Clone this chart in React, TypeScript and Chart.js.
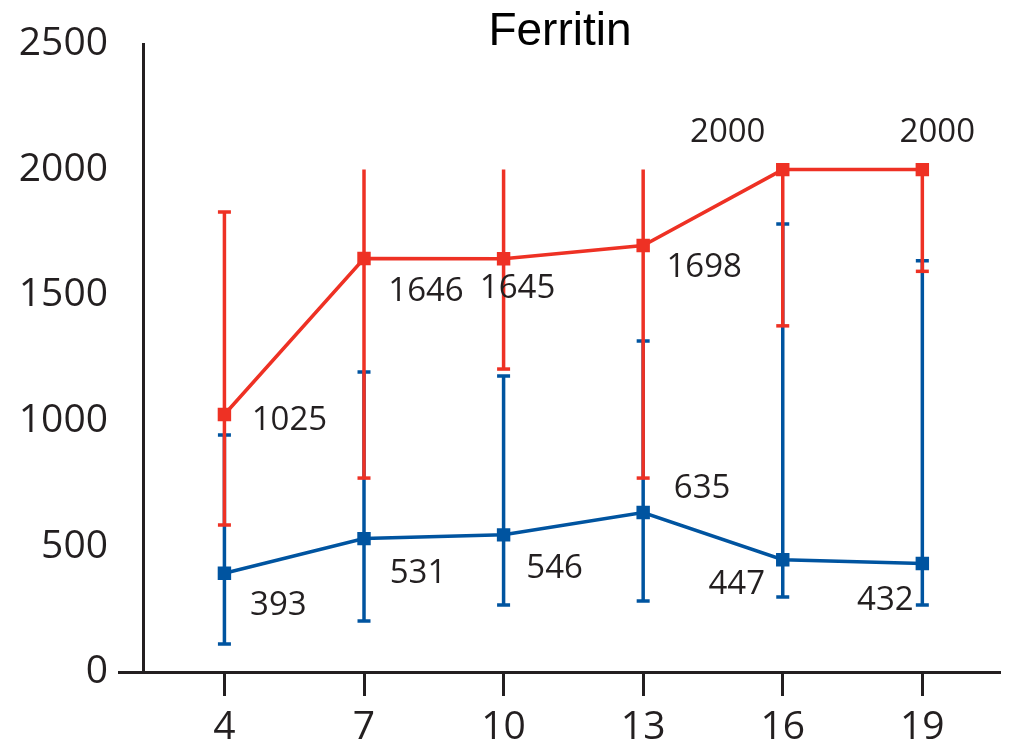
import React, { useEffect, useRef } from "react";
import { Chart, registerables } from "chart.js";

Chart.register(...registerables);

// ---- data ----
const chartTitle = "Ferritin";
const days = [4, 7, 10, 13, 16, 19];
const yTickValues = [0, 500, 1000, 1500, 2000, 2500];

const redName = "Group 1";
const redValues = [1025, 1646, 1645, 1698, 2000, 2000];
const redLow = [585, 772, 1206, 772, 1378, 1595];
const redHigh = [1831, 2000, 2000, 2000, 2000, 2000];

const blueName = "Group 2";
const blueValues = [393, 531, 546, 635, 447, 432];
const blueLow = [111, 203, 267, 283, 299, 267];
const blueHigh = [943, 1194, 1178, 1318, 1783, 1637];

const assayUpperLimit = 2000;

// ---- styling ----
const RED = "#EE3124";
const BLUE = "#0054A0";
const INK = "#231F20";
const LABEL_FONT = "33px 'Open Sans'";
const TICK_FONT = { family: "'Open Sans'", size: 39 };

// label offsets (px) from each point, per series
const redLabelOffsets = [
  [65, 6], [62, 33], [14, 30], [61, 22], [-55, -37], [15, -37],
];
const blueLabelOffsets = [
  [54, 32], [54, 35], [51, 34], [59, -24], [-46, 25], [-37, 37],
];

const errorBarPlugin = {
  id: "errorBars",
  beforeDatasetsDraw(chart: any) {
    const { ctx } = chart;
    const y = chart.scales.y;
    const draw = (dsIndex: number, lows: number[], highs: number[], color: string) => {
      const meta = chart.getDatasetMeta(dsIndex);
      ctx.save();
      ctx.strokeStyle = color;
      ctx.lineWidth = 3.5;
      ctx.lineCap = "butt";
      meta.data.forEach((pt: any, i: number) => {
        const x = pt.x;
        const yLo = y.getPixelForValue(lows[i]);
        const yHi = y.getPixelForValue(highs[i]);
        ctx.beginPath();
        ctx.moveTo(x, yLo);
        ctx.lineTo(x, yHi);
        ctx.stroke();
        const cap = 6.5;
        ctx.beginPath();
        ctx.moveTo(x - cap, yLo);
        ctx.lineTo(x + cap, yLo);
        if (highs[i] < assayUpperLimit) {
          ctx.moveTo(x - cap, yHi);
          ctx.lineTo(x + cap, yHi);
        }
        ctx.stroke();
      });
      ctx.restore();
    };
    draw(1, blueLow, blueHigh, BLUE);
    draw(0, redLow, redHigh, RED);
  },
};

const labelPlugin = {
  id: "valueLabels",
  afterDatasetsDraw(chart: any) {
    const { ctx } = chart;
    const sets: [number, number[], number[][]][] = [
      [0, redValues, redLabelOffsets],
      [1, blueValues, blueLabelOffsets],
    ];
    ctx.save();
    ctx.font = LABEL_FONT;
    ctx.fillStyle = INK;
    ctx.textAlign = "center";
    ctx.textBaseline = "middle";
    sets.forEach(([idx, vals, offs]) => {
      const meta = chart.getDatasetMeta(idx);
      meta.data.forEach((pt: any, i: number) => {
        ctx.fillText(String(vals[i]), pt.x + offs[i][0], pt.y + offs[i][1]);
      });
    });
    ctx.restore();
  },
};

const titlePlugin = {
  id: "plainTitle",
  afterDraw(chart: any) {
    const { ctx } = chart;
    ctx.save();
    ctx.font = "46px 'Liberation Sans'";
    ctx.fillStyle = "#000";
    ctx.textAlign = "center";
    ctx.textBaseline = "alphabetic";
    ctx.fillText(chartTitle, 560, 45);
    ctx.restore();
  },
};

export default function App() {
  const ref = useRef<HTMLCanvasElement | null>(null);

  useEffect(() => {
    if (!ref.current) return;
    const chart = new Chart(ref.current, {
      type: "line",
      data: {
        datasets: [
          {
            label: redName,
            data: days.map((d, i) => ({ x: d, y: redValues[i] })),
            borderColor: RED,
            backgroundColor: RED,
            borderWidth: 3.5,
            pointStyle: "rect",
            pointRadius: 9.5,
            pointBorderWidth: 0,
            tension: 0,
          },
          {
            label: blueName,
            data: days.map((d, i) => ({ x: d, y: blueValues[i] })),
            borderColor: BLUE,
            backgroundColor: BLUE,
            borderWidth: 3.5,
            pointStyle: "rect",
            pointRadius: 9.5,
            pointBorderWidth: 0,
            tension: 0,
          },
        ],
      },
      options: {
        animation: false,
        responsive: false,
        maintainAspectRatio: false,
        layout: { padding: { top: 44, right: 7, bottom: 0, left: 0 } },
        plugins: {
          legend: { display: false },
          title: { display: false },
          tooltip: { enabled: false },
        },
        scales: {
          x: {
            type: "linear",
            min: 2.25,
            max: 20.68,
            afterBuildTicks: (scale: any) => {
              scale.ticks = days.map((v) => ({ value: v }));
            },
            afterFit: (scale: any) => {
              scale.height = 71;
            },
            ticks: {
              font: TICK_FONT,
              color: INK,
              padding: 8,
              autoSkip: false,
              maxRotation: 0,
              callback: (v: any) => String(v),
            },
            grid: {
              drawOnChartArea: false,
              drawTicks: true,
              tickLength: 24,
              tickColor: INK,
              tickWidth: 3,
            },
            border: { display: true, color: INK, width: 3 },
          },
          y: {
            type: "linear",
            min: 0,
            max: 2500,
            afterBuildTicks: (scale: any) => {
              scale.ticks = yTickValues.map((v) => ({ value: v }));
            },
            afterFit: (scale: any) => {
              scale.width = 143;
            },
            ticks: {
              font: TICK_FONT,
              color: INK,
              padding: 10,
              callback: (v: any) => String(v),
            },
            grid: {
              drawOnChartArea: false,
              drawTicks: true,
              tickLength: 25,
              tickColor: (c: any) => (c.tick && c.tick.value === 0 ? INK : "rgba(0,0,0,0)"),
              tickWidth: 3,
            },
            border: { display: true, color: INK, width: 3 },
          },
        },
      },
      plugins: [errorBarPlugin, labelPlugin, titlePlugin],
    } as any);
    return () => chart.destroy();
  }, []);

  return (
    <div style={{ position: "fixed", left: 0, top: 0, width: 1010, height: 743, background: "#fff" }}>
      <canvas ref={ref} width={1010} height={743} style={{ display: "block", width: 1010, height: 743 }} />
    </div>
  );
}
